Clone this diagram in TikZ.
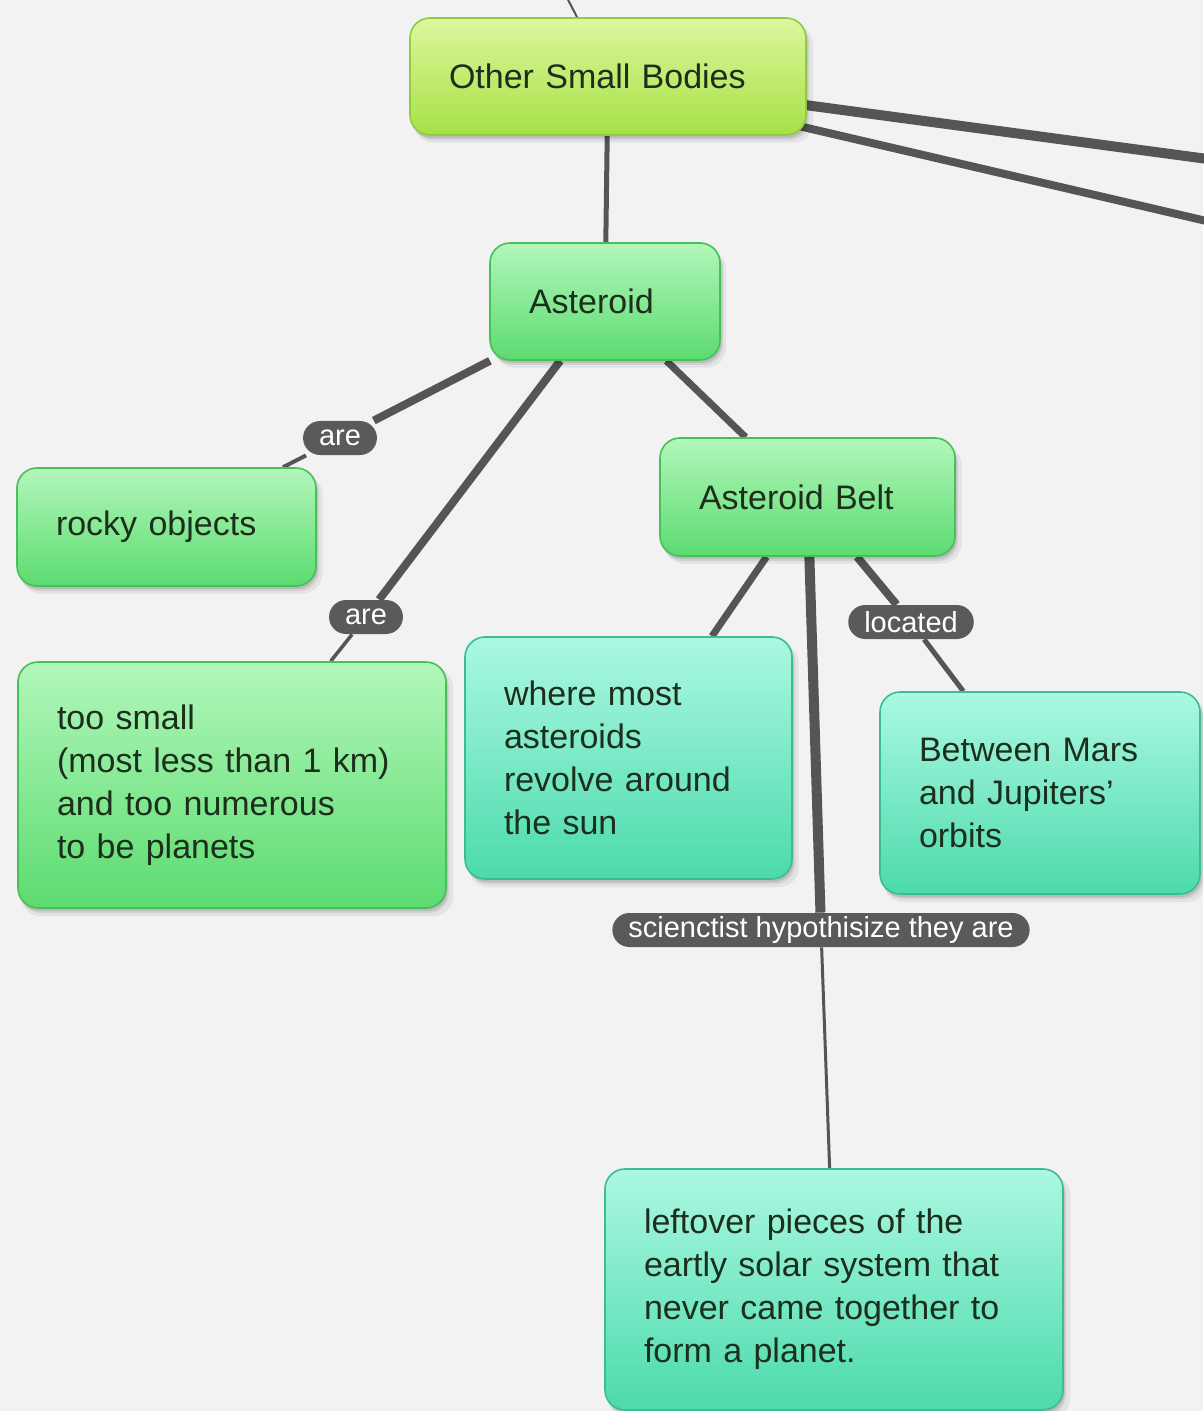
\documentclass[tikz,border=0pt]{standalone}
\usepackage{fontspec}
\setmainfont{Liberation Sans}
\usetikzlibrary{shadows}
\definecolor{bgc}{HTML}{F2F2F2}
\definecolor{oyA}{HTML}{DDF79C}
\definecolor{oyB}{HTML}{A6E146}
\definecolor{oyD}{HTML}{8FCB45}
\definecolor{grA}{HTML}{B2F7BA}
\definecolor{grB}{HTML}{5CDB70}
\definecolor{grD}{HTML}{47BF5A}
\definecolor{tlA}{HTML}{ABF8E2}
\definecolor{tlB}{HTML}{4CDAAC}
\definecolor{tlD}{HTML}{3BBD91}
\definecolor{txt}{HTML}{1C2E1C}
\definecolor{lnk}{HTML}{555555}
\definecolor{pill}{HTML}{5A5A5A}
\pgfdeclarelayer{back}
\pgfdeclarelayer{lines}
\pgfsetlayers{back,lines,main}
\begin{document}
\begin{tikzpicture}[x=0.5pt,y=-0.5pt,
  box/.style={rounded corners=10pt, align=left, inner xsep=19.5pt, inner ysep=0pt,
    font=\fontsize{17}{21.5}\selectfont, text=txt, line width=0.8pt,
    general shadow={fill=black, opacity=0.06, shadow xshift=2.5pt, shadow yshift=-3.5pt, shadow scale=1.01},
    general shadow={fill=black, opacity=0.08, shadow xshift=1.5pt, shadow yshift=-2.5pt},
    general shadow={fill=black, opacity=0.10, shadow xshift=0.8pt, shadow yshift=-1.5pt}},
  ybox/.style={box, top color=oyA, bottom color=oyB, draw=oyD},
  gbox/.style={box, top color=grA, bottom color=grB, draw=grD},
  tbox/.style={box, top color=tlA, bottom color=tlB, draw=tlD},
  lbl/.style={fill=pill, text=white, rounded corners=8.5pt, minimum height=17pt,
    inner xsep=8pt, inner ysep=0pt, font=\fontsize{14.5}{17}\selectfont},
  lk/.style={draw=lnk, line width=#1},
]
\begin{pgfonlayer}{back}
\fill[bgc] (0,0) rectangle (1203,1411);
\end{pgfonlayer}
\useasboundingbox (0,0) rectangle (1203,1411);
\clip (0,0) rectangle (1203,1411);

\node[ybox, minimum width=198pt, minimum height=58.5pt, text width=159pt] (osb) at (608,76.5) {Other Small Bodies};
\node[gbox, minimum width=115pt, minimum height=58.5pt, text width=76pt] (ast) at (605,301.5) {Asteroid};
\node[gbox, minimum width=149.5pt, minimum height=59pt, text width=110.5pt] (rocky) at (166.5,527) {rocky objects};
\node[gbox, minimum width=214pt, minimum height=123pt, text width=175pt] (small) at (232,785) {too small\\(most less than 1 km)\\and too numerous\\to be planets};
\node[gbox, minimum width=147.5pt, minimum height=59pt, text width=108.5pt] (belt) at (807.5,497) {Asteroid Belt};
\node[tbox, minimum width=163.5pt, minimum height=121pt, text width=124.5pt] (where) at (628.5,758) {where most\\asteroids\\revolve around\\the sun};
\node[tbox, minimum width=160pt, minimum height=101pt, text width=121pt] (mars) at (1040,793) {Between Mars\\and Jupiters'\\orbits};
\node[tbox, minimum width=229pt, minimum height=120.5pt, text width=190pt] (left) at (834,1289.5) {leftover pieces of the\\eartly solar system that\\never came together to\\form a planet.};

\node[lbl] (are1) at (340,438) {are};
\node[lbl] (are2) at (366,617) {are};
\node[lbl] (loc) at (911,622) {located};
\node[lbl] (sci) at (821,930) {scienctist hypothisize they are};

\coordinate (top) at (565,-6);
\coordinate (r1) at (1215,160);
\coordinate (r2) at (1215,223);
\coordinate (s1) at (790,103);
\coordinate (s2) at (790,124);

\begin{pgfonlayer}{lines}
\draw[lk=1pt] (top) -- (osb);
\draw[lk=5pt] (s1) -- (r1);
\draw[lk=4pt] (s2) -- (r2);
\draw[lk=2.5pt] (osb) -- (ast);
\draw[lk=4pt] (ast) -- (are1);
\draw[lk=2pt] (are1) -- (rocky);
\draw[lk=4pt] (ast) -- (are2);
\draw[lk=1.75pt] (are2) -- (small);
\draw[lk=3.5pt] (ast) -- (belt);
\draw[lk=3.5pt] (belt) -- (where);
\draw[lk=4pt] (belt) -- (loc);
\draw[lk=2.5pt] (loc) -- (mars);
\draw[lk=5pt] (belt) -- (sci);
\draw[lk=1.5pt] (sci) -- (left);
\end{pgfonlayer}
\end{tikzpicture}
\end{document}
